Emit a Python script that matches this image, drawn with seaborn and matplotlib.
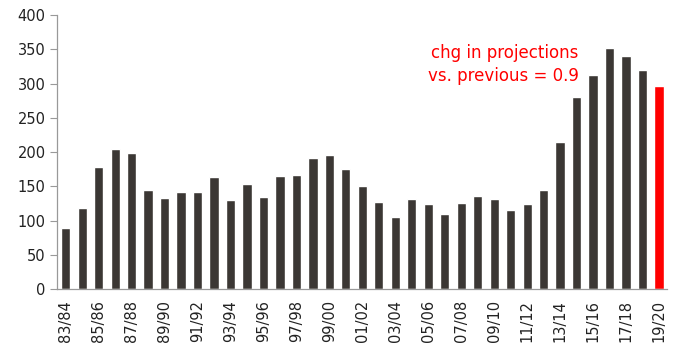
import matplotlib

matplotlib.use("Agg")

import matplotlib.pyplot as plt
import numpy as np
import pandas as pd
import seaborn as sns

seasons = [
    "83/84", "84/85", "85/86", "86/87", "87/88", "88/89", "89/90", "90/91",
    "91/92", "92/93", "93/94", "94/95", "95/96", "96/97", "97/98", "98/99",
    "99/00", "00/01", "01/02", "02/03", "03/04", "04/05", "05/06", "06/07",
    "07/08", "08/09", "09/10", "10/11", "11/12", "12/13", "13/14", "14/15",
    "15/16", "16/17", "17/18", "18/19", "19/20",
]
values = [
    89, 118, 178, 205, 198, 145, 133, 141, 141, 163, 130, 154, 134, 165, 166,
    192, 195, 175, 151, 127, 105, 131, 124, 109, 126, 136, 132, 116, 124, 145,
    215, 280, 312, 352, 341, 320, 297,
]
note = "chg in projections\nvs. previous = 0.9"

sns.set_theme(style="white")
plt.rcParams["font.family"] = ["DejaVu Sans"]

df = pd.DataFrame({"season": seasons, "value": values})
palette = ["#3b3734"] * (len(seasons) - 1) + ["#ff0000"]

fig, ax = plt.subplots(figsize=(6.76, 3.52), dpi=100)
sns.barplot(data=df, x="season", y="value", hue="season", palette=palette,
            legend=False, width=0.56, ax=ax, saturation=1)

ax.set_ylim(0, 400)
ax.set_xlim(-0.5, len(seasons) - 0.5)
ax.set_yticks(np.arange(0, 401, 50))
ax.set_xticks(np.arange(0, len(seasons), 2))
ax.set_xticklabels(seasons[::2], rotation=90)
ax.set_xticks(np.arange(-0.5, len(seasons), 1), minor=True)
ax.tick_params(axis="x", which="major", length=0, labelsize=10.5, colors="#222222", pad=8)
ax.tick_params(axis="x", which="minor", length=5, width=0.8, color="#999999", direction="out")
ax.tick_params(axis="y", length=5, width=0.8, color="#999999", labelsize=10.5,
               labelcolor="#222222", direction="out", left=True)
ax.set_xlabel("")
ax.set_ylabel("")
sns.despine(ax=ax)
for s in ("left", "bottom"):
    ax.spines[s].set_color("#999999")
    ax.spines[s].set_linewidth(0.9)

ax.text(0.855, 0.895, note, transform=ax.transAxes, ha="right", va="top",
        multialignment="right", color="#ff0000", fontsize=12, linespacing=1.4)

fig.subplots_adjust(left=0.085, right=0.987, top=0.957, bottom=0.179)
fig.savefig("out.png", dpi=100)
